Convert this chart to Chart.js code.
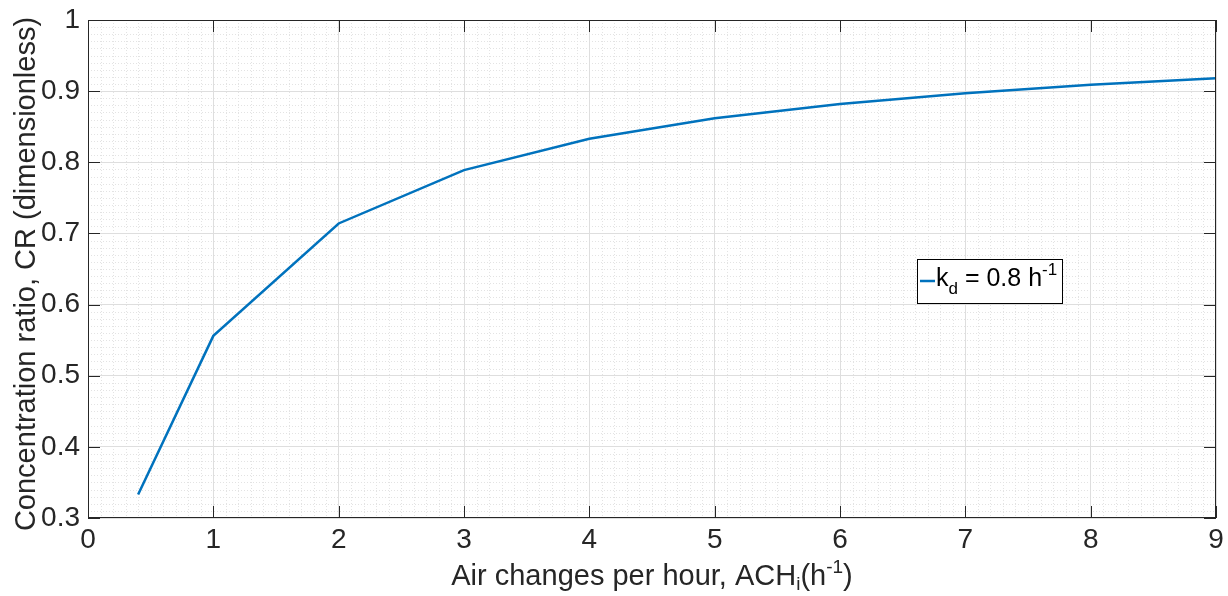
<!DOCTYPE html>
<html lang="en">
<head>
  <meta charset="UTF-8">
  <title>Concentration ratio vs air changes per hour</title>
  <style>
    * { margin: 0; padding: 0; box-sizing: border-box; }
    body { background: #fff; width: 1228px; height: 596px; overflow: hidden; }
    #wrap { position: relative; width: 1228px; height: 596px; }
  </style>
  <script src="https://cdn.jsdelivr.net/npm/chart.js"></script>
</head>
<body>
  <div id="wrap"><canvas id="crChart"></canvas></div>
  <script>
    // values
    const ach = [0.4, 1, 2, 3, 4, 5, 6, 7, 8, 9];
    const cr  = [0.333, 0.556, 0.714, 0.789, 0.833, 0.862, 0.882, 0.897, 0.909, 0.918];
    const xTicks = [0, 1, 2, 3, 4, 5, 6, 7, 8, 9];
    const yTicks = [0.3, 0.4, 0.5, 0.6, 0.7, 0.8, 0.9, 1];

    const FONT = "'Liberation Sans', Arial, Helvetica, sans-serif";
    const AXIS = '#262626';
    const BLUE = '#0072bd';

    // draws a run of text pieces with sub/superscripts
    function richText(ctx, parts, x, y, align) {
      let w = 0;
      parts.forEach(p => {
        ctx.font = p.size + 'px ' + FONT;
        w += ctx.measureText(p.t).width;
      });
      let cx = align === 'center' ? x - w / 2 : x;
      ctx.textBaseline = 'middle';
      ctx.textAlign = 'left';
      parts.forEach(p => {
        ctx.font = p.size + 'px ' + FONT;
        ctx.fillText(p.t, cx, y + (p.dy || 0));
        cx += ctx.measureText(p.t).width;
      });
      return w;
    }

    const matlabAxes = {
      id: 'matlabAxes',
      beforeDraw(chart) {
        const {ctx, chartArea: a, scales: {x, y}} = chart;
        ctx.save();
        ctx.strokeStyle = '#e3e3e3';
        ctx.lineWidth = 1;
        ctx.setLineDash([1, 2]);
        for (let i = 1; i < 90; i++) {
          if (i % 10 === 0) continue;
          const px = Math.round(x.getPixelForValue(i / 10)) + 0.5;
          ctx.beginPath(); ctx.moveTo(px, a.top); ctx.lineTo(px, a.bottom); ctx.stroke();
        }
        for (let i = 31; i < 100; i++) {
          if (i % 10 === 0) continue;
          const py = Math.round(y.getPixelForValue(i / 100)) + 0.5;
          ctx.beginPath(); ctx.moveTo(a.left, py); ctx.lineTo(a.right, py); ctx.stroke();
        }
        ctx.restore();
      },
      afterDraw(chart) {
        const {ctx, chartArea: a, scales: {x, y}} = chart;
        ctx.save();
        // box and inward ticks
        ctx.strokeStyle = AXIS;
        ctx.lineWidth = 1;
        ctx.strokeRect(a.left + 0.5, a.top + 0.5, a.right - a.left - 1, a.bottom - a.top - 1);
        const tl = 12;
        xTicks.forEach(v => {
          const px = Math.round(x.getPixelForValue(v)) + 0.5;
          ctx.beginPath();
          ctx.moveTo(px, a.bottom); ctx.lineTo(px, a.bottom - tl);
          ctx.moveTo(px, a.top); ctx.lineTo(px, a.top + tl);
          ctx.stroke();
        });
        yTicks.forEach(v => {
          const py = Math.round(y.getPixelForValue(v)) + 0.5;
          ctx.beginPath();
          ctx.moveTo(a.left, py); ctx.lineTo(a.left + tl, py);
          ctx.moveTo(a.right, py); ctx.lineTo(a.right - tl, py);
          ctx.stroke();
        });

        // axis titles
        ctx.fillStyle = AXIS;
        const cx = (a.left + a.right) / 2;
        richText(ctx, [
          {t: 'Air changes per hour, ACH', size: 29},
          {t: 'i', size: 19, dy: 8},
          {t: '(h', size: 29},
          {t: '-1', size: 19, dy: -9},
          {t: ')', size: 29}
        ], cx, 577, 'center');
        ctx.save();
        ctx.translate(27, (a.top + a.bottom) / 2 + 5);
        ctx.rotate(-Math.PI / 2);
        richText(ctx, [{t: 'Concentration ratio, CR (dimensionless)', size: 29}], 0, 0, 'center');
        ctx.restore();

        // legend
        const ds = chart.data.datasets[0];
        const lx = 917, ly = 259, lw = 146, lh = 45;
        ctx.fillStyle = '#fff';
        ctx.fillRect(lx, ly, lw, lh);
        ctx.strokeStyle = '#000';
        ctx.strokeRect(lx + 0.5, ly + 0.5, lw - 1, lh - 1);
        ctx.strokeStyle = ds.borderColor;
        ctx.lineWidth = 2.5;
        ctx.beginPath(); ctx.moveTo(lx + 3, ly + 22); ctx.lineTo(lx + 18, ly + 22); ctx.stroke();
        ctx.fillStyle = '#000';
        richText(ctx, [
          {t: 'k', size: 25},
          {t: 'd', size: 17, dy: 10},
          {t: ' = 0.8 h', size: 25},
          {t: '-1', size: 17, dy: -9}
        ], lx + 19, ly + 20, 'left');
        ctx.restore();
      }
    };

    new Chart(document.getElementById('crChart'), {
      type: 'line',
      data: {
        datasets: [{
          label: 'k_d = 0.8 h^-1',
          data: ach.map((v, i) => ({x: v, y: cr[i]})),
          borderColor: BLUE,
          borderWidth: 2.5,
          pointRadius: 0,
          tension: 0,
          fill: false
        }]
      },
      options: {
        responsive: true,
        maintainAspectRatio: false,
        animation: false,
        layout: { padding: { top: 20, right: 12, left: 0, bottom: 0 } },
        plugins: { legend: { display: false }, tooltip: { enabled: false } },
        scales: {
          x: {
            type: 'linear', min: 0, max: 9,
            afterBuildTicks: s => { s.ticks = xTicks.map(v => ({value: v})); },
            afterFit: s => { s.height = 78; s.paddingLeft = 0; s.paddingRight = 0; },
            ticks: { color: AXIS, font: { family: FONT, size: 28 }, padding: 5, maxRotation: 0,
                     callback: v => String(v) },
            grid: { color: '#dedede', drawTicks: false },
            border: { display: false }
          },
          y: {
            type: 'linear', min: 0.3, max: 1,
            afterBuildTicks: s => { s.ticks = yTicks.map(v => ({value: v})); },
            afterFit: s => { s.width = 88; s.paddingTop = 0; s.paddingBottom = 0; },
            ticks: { color: AXIS, font: { family: FONT, size: 28 }, padding: 8,
                     callback: v => (v === 1 ? '1' : v.toFixed(1)) },
            grid: { color: '#dedede', drawTicks: false },
            border: { display: false }
          }
        }
      },
      plugins: [matlabAxes]
    });
  </script>
</body>
</html>
